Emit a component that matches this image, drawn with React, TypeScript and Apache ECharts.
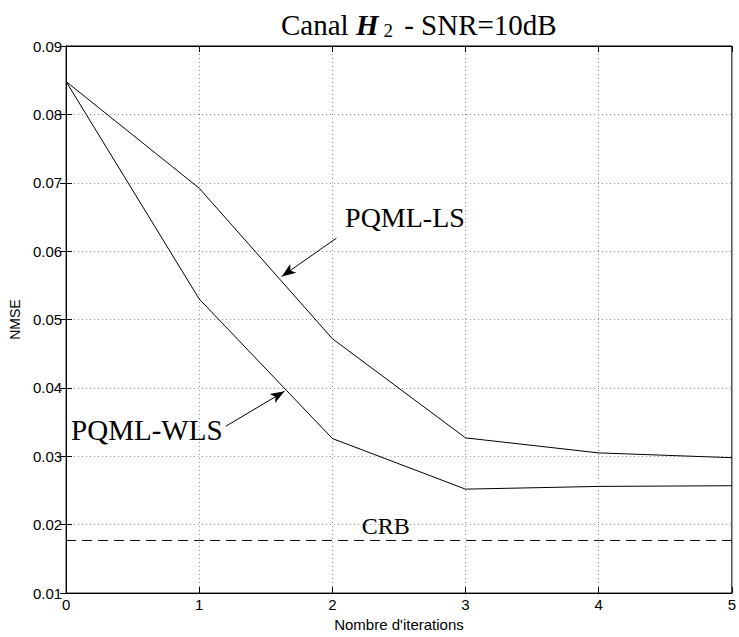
import React, { useEffect, useRef } from "react";
import * as echarts from "echarts";

const iterations = [0, 1, 2, 3, 4, 5];
const pqmlLS = [0.0848, 0.0692, 0.0472, 0.0327, 0.0305, 0.0298];
const pqmlWLS = [0.0848, 0.0530, 0.0326, 0.0252, 0.0256, 0.0257];
const crb = [0.0177, 0.0177, 0.0177, 0.0177, 0.0177, 0.0177];
const yTicks = { min: 0.01, max: 0.09, interval: 0.01 };

// annotation anchors in data coordinates
const lsLabel = { text: "PQML-LS", x: 2.545, y: 0.0649 };
const lsArrow = { from: [2.03, 0.0619], to: [1.62, 0.0563] };
const wlsLabel = { text: "PQML-WLS", x: 0.606, y: 0.0339 };
const wlsArrow = { from: [1.2, 0.0344], to: [1.64, 0.0395] };
const crbLabel = { text: "CRB", x: 2.4, y: 0.0198 };

export default function App() {
  const ref = useRef<HTMLDivElement>(null);
  useEffect(() => {
    document.body.style.margin = "0";
    const chart = echarts.init(ref.current!, null, { renderer: "svg" });
    const serif = "Liberation Serif";
    const sans = "Liberation Sans";
    const gridLine = { show: true, lineStyle: { color: "#8a8a8a", type: [1, 3] as any, width: 1 } };
    const mkLabel = (l: { text: string; x: number; y: number }, size: number) => ({
      coord: [l.x, l.y],
      symbolSize: 0,
      label: {
        show: true,
        position: "inside",
        formatter: l.text,
        fontFamily: serif,
        fontSize: size,
        color: "#000",
      },
    });
    const mkArrow = (a: { from: number[]; to: number[] }) => [
      { coord: a.from, symbol: "none" },
      { coord: a.to, symbol: "arrow", symbolSize: [8, 14] },
    ];
    chart.setOption({
      animation: false,
      backgroundColor: "#fff",
      title: {
        left: 276,
        top: 4,
        text: "{a|Canal }{h|H}{s|2}{a| - SNR=10dB}",
        textStyle: {
          fontWeight: "normal",
          rich: {
            a: { fontFamily: serif, fontSize: 29, fontWeight: "normal", color: "#000" },
            h: { fontFamily: serif, fontSize: 29, fontStyle: "italic", fontWeight: "bold", color: "#000" },
            s: { fontFamily: serif, fontSize: 19, fontWeight: "normal", color: "#000", padding: [12, 4, 0, 5] },
          },
        },
      },
      grid: { left: 66, right: 5, top: 46, bottom: 36, show: true, borderColor: "#000", borderWidth: 1 },
      xAxis: [
        {
          type: "value",
          min: 0,
          max: 5,
          interval: 1,
          name: "Nombre d'iterations",
          nameLocation: "middle",
          nameGap: 21,
          nameTextStyle: { fontFamily: sans, fontSize: 15, color: "#000" },
          axisLine: { show: true, lineStyle: { color: "#000", width: 1 } },
          axisTick: { show: true, inside: true, length: 6, lineStyle: { color: "#000" } },
          axisLabel: { fontFamily: sans, fontSize: 15, color: "#000", margin: 4 },
          splitLine: gridLine,
        },
        {
          type: "value",
          position: "top",
          min: 0,
          max: 5,
          interval: 1,
          axisLine: { show: true, lineStyle: { color: "#000" } },
          axisTick: { show: true, inside: true, length: 6, lineStyle: { color: "#000" } },
          axisLabel: { show: false },
          splitLine: { show: false },
        },
      ],
      yAxis: [
        {
          type: "value",
          min: yTicks.min,
          max: yTicks.max,
          interval: yTicks.interval,
          name: "NMSE",
          nameLocation: "middle",
          nameGap: 39,
          nameTextStyle: { fontFamily: sans, fontSize: 14, color: "#000" },
          axisLine: { show: true, lineStyle: { color: "#000", width: 1 } },
          axisTick: { show: true, inside: true, length: 6, lineStyle: { color: "#000" } },
          axisLabel: { fontFamily: sans, fontSize: 15, color: "#000", margin: 4, formatter: (v: number) => v.toFixed(2) },
          splitLine: gridLine,
        },
        {
          type: "value",
          position: "right",
          min: yTicks.min,
          max: yTicks.max,
          interval: yTicks.interval,
          axisLine: { show: true, lineStyle: { color: "#000" } },
          axisTick: { show: true, inside: true, length: 6, lineStyle: { color: "#000" } },
          axisLabel: { show: false },
          splitLine: { show: false },
        },
      ],
      series: [
        {
          name: "PQML-LS",
          type: "line",
          data: iterations.map((x, i) => [x, pqmlLS[i]]),
          showSymbol: false,
          lineStyle: { color: "#000", width: 1 },
          markPoint: { data: [mkLabel(lsLabel, 28), mkLabel(wlsLabel, 29), mkLabel(crbLabel, 24)] },
          markLine: {
            silent: true,
            label: { show: false },
            lineStyle: { color: "#000", width: 1, type: "solid" },
            data: [mkArrow(lsArrow), mkArrow(wlsArrow)] as any,
          },
        },
        {
          name: "PQML-WLS",
          type: "line",
          data: iterations.map((x, i) => [x, pqmlWLS[i]]),
          showSymbol: false,
          lineStyle: { color: "#000", width: 1 },
        },
        {
          name: "CRB",
          type: "line",
          data: iterations.map((x, i) => [x, crb[i]]),
          showSymbol: false,
          lineStyle: { color: "#000", width: 1, type: [10, 6] as any },
        },
      ],
    });
    return () => chart.dispose();
  }, []);
  return <div ref={ref} style={{ width: 739, height: 637 }} />;
}
